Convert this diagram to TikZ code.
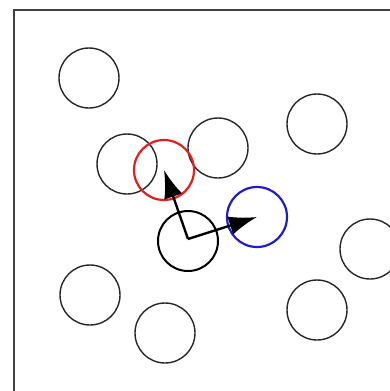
\documentclass[tikz,border=0pt]{standalone}
\usetikzlibrary{arrows.meta}
\begin{document}
\begin{tikzpicture}[x=1pt,y=-1pt,
  disc/.style={circle,draw=black!85,line width=1.4pt,minimum size=60pt,inner sep=0pt},
  thickdisc/.style={disc,draw=black,line width=2pt},
  reddisc/.style={disc,draw={rgb,255:red,230;green,30;blue,30},line width=2.2pt},
  bluedisc/.style={disc,draw={rgb,255:red,30;green,30;blue,200},line width=2.2pt},
  vec/.style={line width=2.4pt,-{Latex[length=28pt,width=19pt]}}]
\useasboundingbox (0,0) rectangle (390,391);
\clip (0,0) rectangle (390,391);
\draw[black!75,line width=1.6pt] (14,10) rectangle (420,420);
\node[disc] (a) at (89,78) {};
\node[disc] (b) at (127,164) {};
\node[disc] (d) at (218,148) {};
\node[disc] (e) at (317,124) {};
\node[disc] (f) at (370,249) {};
\node[disc] (g) at (90,295) {};
\node[disc] (h) at (165,333) {};
\node[disc] (i) at (317,310) {};
\node[thickdisc] (c) at (188,241) {};
\node[reddisc] (r) at (164,170) {};
\node[bluedisc] (u) at (257,217) {};
\coordinate (o) at (188,239);
\draw[vec] (o) -- (r.center);
\draw[vec] (o) -- (u.center);
\end{tikzpicture}
\end{document}
